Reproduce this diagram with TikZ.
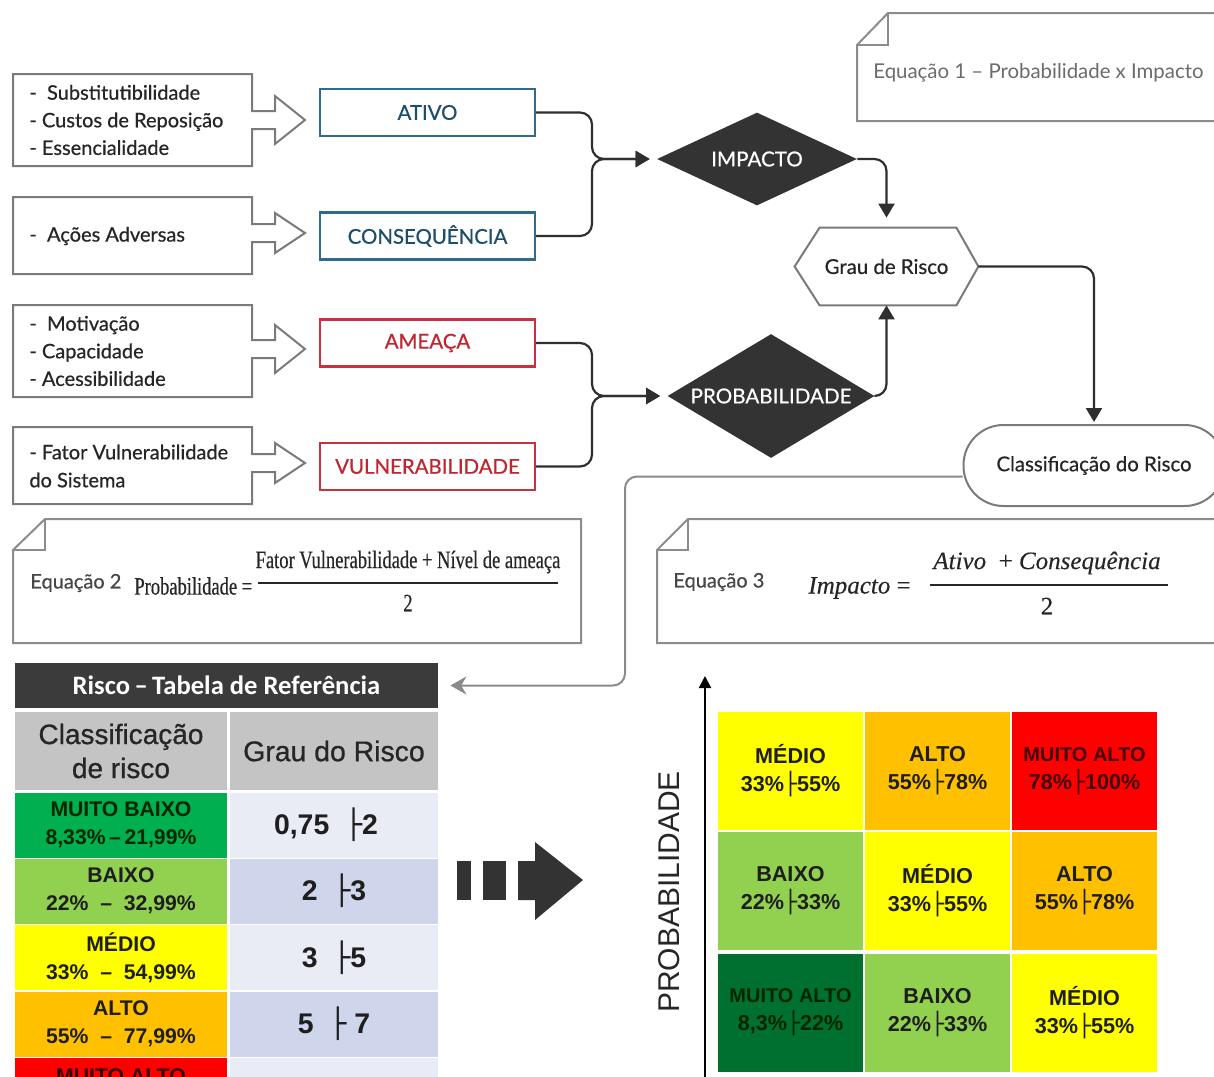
\documentclass[tikz,border=0pt]{standalone}
\usepackage{fontspec}
\setmainfont{Lato}
\newfontfamily\latom[FakeBold=0.6]{Lato}
\newfontfamily\arial{Liberation Sans}
\newfontfamily\arialm[FakeBold=0.8]{Liberation Sans}
\newfontfamily\calib{Carlito}
\newfontfamily\condserif[FakeStretch=0.74,FakeBold=0.4]{Liberation Serif}
\newfontfamily\itserif[FakeBold=0.3]{Liberation Serif}
\newfontfamily\djv{DejaVu Sans}
\usetikzlibrary{shapes.geometric,arrows.meta,calc}
\newcommand\fs[2]{\fontsize{#1pt}{#2pt}\selectfont}
\newcommand\lb{{\djv ├}}
\definecolor{boxgray}{HTML}{7A7A7A}
\definecolor{textdark}{HTML}{262626}
\definecolor{tealc}{HTML}{2E6C8A}
\definecolor{tealt}{HTML}{1D4E6C}
\definecolor{redc}{HTML}{C8323C}
\definecolor{redt}{HTML}{BF2630}
\definecolor{linec}{HTML}{2F2F2F}
\definecolor{darkf}{HTML}{333333}
\definecolor{gline}{HTML}{8A8A8A}
\definecolor{notegray}{HTML}{8C8C8C}
\definecolor{titlebg}{HTML}{3B3B3B}
\definecolor{hdrbg}{HTML}{C4C4C4}
\definecolor{rowA}{HTML}{E9EBF5}
\definecolor{rowB}{HTML}{CFD5EA}
\definecolor{cgreen}{HTML}{00B050}
\definecolor{clgreen}{HTML}{92D050}
\definecolor{cyellow}{HTML}{FFFF00}
\definecolor{corange}{HTML}{FFC000}
\definecolor{cred}{HTML}{FF0000}
\definecolor{cdgreen}{HTML}{00702E}
\definecolor{celltext}{HTML}{1E1E1E}
\newcommand\inbox[5]{% top, bottom, arrow centre, head half, name
  \draw[inboxline] (13,#1) -- (252,#1) -- (252,#3-9) -- (275,#3-9) -- (275,#3-#4) -- (305,#3)
    -- (275,#3+#4) -- (275,#3+9) -- (252,#3+9) -- (252,#2) -- (13,#2) -- cycle;
  \coordinate (#5) at (13,#1);}
\begin{document}
\begin{tikzpicture}[x=0.5pt,y=-0.5pt,
  inboxline/.style={draw=boxgray, line width=1pt, fill=white, line join=miter},
  intext/.style={anchor=west, align=left, font=\latom\fs{10}{13.8}, text=textdark, inner sep=0pt},
  tealbox/.style={draw=tealc, line width=1.1pt, text=tealt, minimum width=107.5pt, minimum height=23.5pt, inner sep=0pt, font=\latom\fs{10.2}{12}},
  redbox/.style={tealbox, draw=redc, text=redt},
  conn/.style={draw=linec, line width=1.1pt, rounded corners=6pt, -{Triangle[length=7pt,width=8pt]}},
  gconn/.style={draw=gline, line width=1pt, rounded corners=6pt, -{Stealth[length=8pt,width=9pt]}},
  dia/.style={diamond, fill=darkf, text=white, inner sep=0pt, font=\latom\fs{10.3}{12}},
  notel/.style={draw=notegray, line width=1pt, fill=white, line join=miter},
  eqlabel/.style={anchor=west, inner sep=0pt, text=textdark!85, font=\latom\fs{10}{12}},
  lab/.style={minimum width=106pt, minimum height=32.5pt, inner sep=0pt, align=center, text=celltext, font=\arial\bfseries\fs{10.6}{14}},
  val/.style={minimum width=104pt, minimum height=32.5pt, inner sep=0pt, align=center, text=celltext, font=\arial\bfseries\fs{14.2}{16}},
  grd/.style={minimum width=72.5pt, minimum height=59pt, inner sep=0pt, align=center, text=celltext, font=\arial\bfseries\fs{10.8}{14}}
]
\useasboundingbox (0,0) rectangle (1214,1076);
\fill[white] (0,0) rectangle (1214,1076);

% ---------- input boxes with block arrows ----------
\inbox{74}{166}{120}{24}{b1}
\node[intext] (t1) at (29,120) {-\ \ Substitutibilidade\\- Custos de Reposição\\- Essencialidade};
\inbox{197}{274}{233}{20}{b2}
\node[intext] (t2) at (29,236) {-\ \ Ações Adversas};
\inbox{305}{397}{349}{24}{b3}
\node[intext] (t3) at (29,351) {-\ \ Motivação\\- Capacidade\\- Acessibilidade};
\inbox{427}{504}{463}{20}{b4}
\node[intext, font=\latom\fs{10}{14}] (t4) at (29,466) {- Fator Vulnerabilidade\\do Sistema};

% ---------- factor boxes ----------
\node[tealbox] (ativo) at (427.5,112.5) {ATIVO};
\node[tealbox] (cons) at (427.5,236) {CONSEQUÊNCIA};
\node[redbox] (ameaca) at (427.5,343) {AMEAÇA};
\node[redbox] (vuln) at (427.5,466.5) {VULNERABILIDADE};

% ---------- decisions ----------
\node[dia, shape aspect=2.15, minimum width=100pt, minimum height=46.5pt] (impacto) at (757,159) {IMPACTO};
\node[dia, shape aspect=1.67, minimum width=103.5pt, minimum height=62pt] (prob) at (771,396) {PROBABILIDADE};

% ---------- grau de risco (hexagon) ----------
\node[minimum width=91.5pt, minimum height=38.5pt, inner sep=0pt, text=textdark, font=\latom\fs{10.2}{12}] (grau) at (886.5,266.5) {Grau de Risco};
\draw[draw=boxgray, line width=1pt] (grau.west) -- ($(grau.north west)+(25,0)$) -- ($(grau.north east)+(-22,0)$)
  -- (grau.east) -- ($(grau.south east)+(-22,0)$) -- ($(grau.south west)+(25,0)$) -- cycle;

% ---------- classificacao ----------
\node[draw=boxgray, line width=1pt, rounded corners=20pt, minimum width=130.5pt, minimum height=40.5pt, inner sep=0pt, text=textdark, font=\latom\fs{10.2}{12}] (classif) at (1094,465.5) {Classificação do Risco};

% ---------- connectors ----------
\coordinate (jI) at (592,159);
\coordinate (jP) at (592,396);
\draw[conn, shorten >=3.5pt] (ativo.east) -| (jI) -- (impacto.west);
\draw[conn, shorten >=3.5pt] (cons.east) -| (jI) -- (impacto.west);
\draw[conn, shorten >=3.5pt] (ameaca.east) -| (jP) -- (prob.west);
\draw[conn, shorten >=3.5pt] (vuln.east) -| (jP) -- (prob.west);
\draw[conn, shorten >=5pt] (impacto.east) -| (grau.north);
\draw[conn] (prob.east) -| (grau.south);
\draw[conn, shorten >=1pt] (grau.east) -| (classif.north);

% ---------- notes ----------
\draw[notel] (857,45) -- (888,13) -- (1222,13) -- (1222,121) -- (857,121) -- cycle;
\draw[notel, fill=none] (888,13) -- (888,45) -- (857,45);
\node[anchor=west, inner sep=0pt, text=black!58, font=\fs{10.2}{12}] (eq1) at (873,73) {Equação 1 – Probabilidade x Impacto};

\draw[notel] (13,550) -- (45,519) -- (581,519) -- (581,643) -- (13,643) -- cycle;
\draw[notel, fill=none] (45,519) -- (45,550) -- (13,550);
\node[eqlabel] (eq2) at (30,583) {Equação 2};
\node[anchor=west, inner sep=0pt, font=\condserif\fs{12.5}{14}, text=textdark] (p2l) at (134,586) {Probabilidade =};
\node[inner sep=0pt, font=\condserif\fs{12.5}{14}, text=textdark] (p2n) at (408,562) {Fator Vulnerabilidade + Nível de ameaça};
\draw[textdark, line width=0.6pt] (258,583) -- (558,583);
\node[inner sep=0pt, font=\condserif\fs{12.5}{14}, text=textdark] (p2d) at (408,603) {2};

\draw[notel] (657,550) -- (688,519) -- (1222,519) -- (1222,643) -- (657,643) -- cycle;
\draw[notel, fill=none] (688,519) -- (688,550) -- (657,550);
\node[eqlabel] (eq3) at (673,582) {Equação 3};
\node[anchor=west, inner sep=0pt, font=\itserif\fs{12.5}{14}, text=textdark] (p3l) at (808,588) {\itshape Impacto\upshape\ =};
\node[inner sep=0pt, font=\itserif\itshape\fs{12.5}{14}, text=textdark] (p3n) at (1047,563) {Ativo\ \ \upshape+\itshape\ Consequência};
\draw[textdark, line width=0.6pt] (930,585) -- (1168,585);
\node[inner sep=0pt, font=\itserif\fs{12.5}{14}, text=textdark] (p3d) at (1047,606) {2};

% ---------- reference table ----------
\node[fill=titlebg, minimum width=211.5pt, minimum height=22.5pt, inner sep=0pt, text=white, font=\calib\bfseries\fs{13.3}{15}] (tabtitle) at (226.5,685.5) {Risco\,–\,Tabela de Referência};
\draw[gconn] ([yshift=-5.5pt]classif.west) -| (625,580) |- ([xshift=6pt]tabtitle.east);

\node[fill=hdrbg, minimum width=106pt, minimum height=39pt, inner sep=0pt, align=center, text=textdark, font=\arialm\fs{14}{17}] (h1) at (121,751) {Classificação\\de risco};
\node[fill=hdrbg, minimum width=104pt, minimum height=39pt, inner sep=0pt, align=center, text=textdark, font=\arialm\fs{14.2}{16}] (h2) at (334,751) {Grau do Risco};

\node[lab, fill=cgreen, text=black!85!green] (r1a) at (121,825) {MUITO BAIXO\\8,33\%\,–\,21,99\%};
\node[val, fill=rowA] (r1b) at (334,825) {\hspace*{-8pt}0,75\ \ \lb2};
\node[lab, fill=clgreen] (r2a) at (121,891) {BAIXO\\22\%\ \ –\ \ 32,99\%};
\node[val, fill=rowB] (r2b) at (334,891) {2\ \ \lb3};
\node[lab, fill=cyellow] (r3a) at (121,957.5) {MÉDIO\\33\%\ \ –\ \ 54,99\%};
\node[val, fill=rowA] (r3b) at (334,957.5) {3\ \ \lb5};
\node[lab, fill=corange] (r4a) at (121,1024) {ALTO\\55\%\ \ –\ \ 77,99\%};
\node[val, fill=rowB] (r4b) at (334,1024) {5\ \ \lb\ 7};
\node[lab, fill=cred, text=black!80!red] (r5a) at (121,1090) {MUITO ALTO\\[0pt]\phantom{X}};
\node[val, fill=rowA] (r5b) at (334,1090) {};

% ---------- big block arrow ----------
\fill[darkf] (457,861) rectangle (471,900);
\fill[darkf] (483,861) rectangle (506,900);
\fill[darkf] (518,861) -- (535,861) -- (535,842) -- (583,880) -- (535,920) -- (535,900) -- (518,900) -- cycle;

% ---------- matrix ----------
\node[rotate=90, inner sep=0pt, text=textdark, font=\arial\fs{15}{17}] (ylab) at (669,892) {PROBABILIDADE};
\coordinate (ax0) at (705,1080);
\coordinate (ax1) at (705,676);
\draw[black, line width=1.1pt, -{Triangle[length=6pt,width=6pt]}] (ax0) -- (ax1);

\node[grd, fill=cyellow] (g11) at (790.5,771) {MÉDIO\\33\%\lb55\%};
\node[grd, fill=corange] (g12) at (937.5,771) {ALTO\\55\%\lb78\%};
\node[grd, fill=cred, text=black!75!red] (g13) at (1084.5,771) {{\fs{10}{14}MUITO ALTO}\\78\%\lb100\%};
\node[grd, fill=clgreen] (g21) at (790.5,891) {BAIXO\\22\%\lb33\%};
\node[grd, fill=cyellow] (g22) at (937.5,891) {MÉDIO\\33\%\lb55\%};
\node[grd, fill=corange] (g23) at (1084.5,891) {ALTO\\55\%\lb78\%};
\node[grd, fill=cdgreen, text=black!85!green] (g31) at (790.5,1012.5) {{\fs{10}{14}MUITO ALTO}\\8,3\%\lb22\%};
\node[grd, fill=clgreen] (g32) at (937.5,1012.5) {BAIXO\\22\%\lb33\%};
\node[grd, fill=cyellow] (g33) at (1084.5,1012.5) {MÉDIO\\33\%\lb55\%};
\end{tikzpicture}
\end{document}
